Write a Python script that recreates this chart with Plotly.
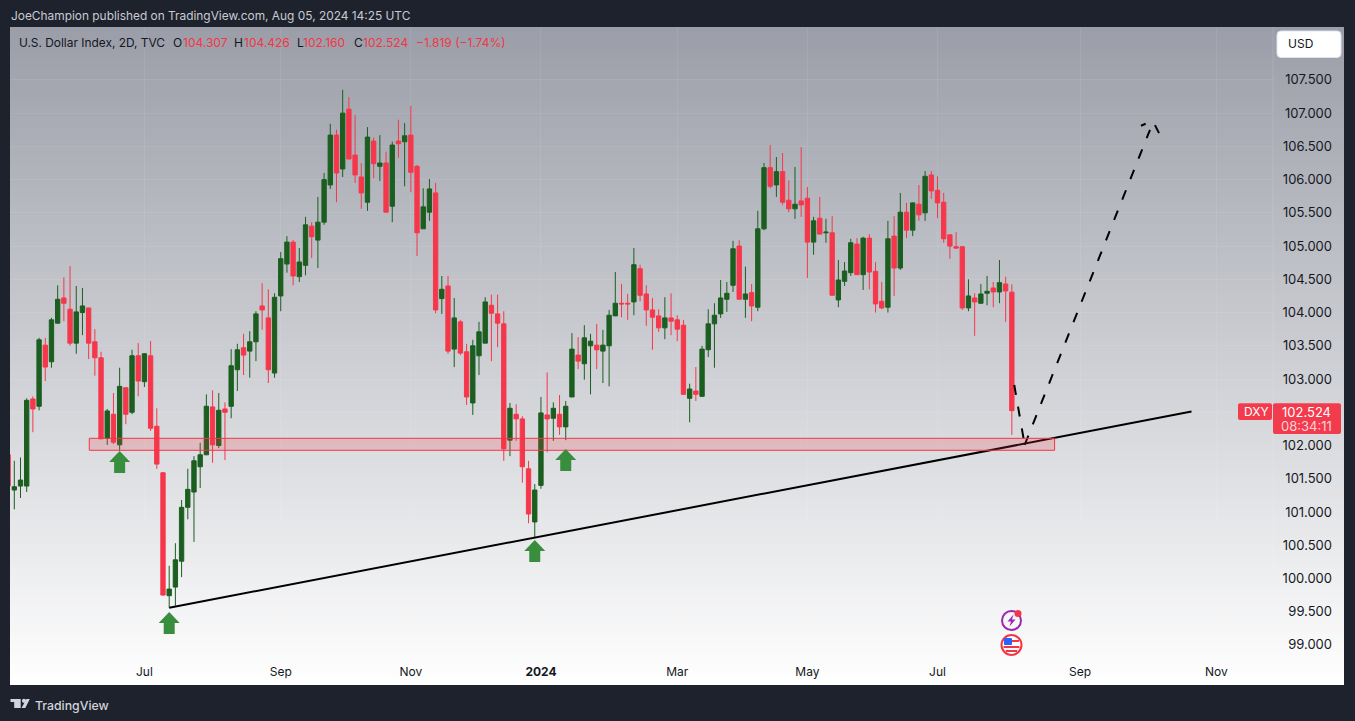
import plotly.graph_objects as go

bar_index = list(range(-1, 162))
opens = [101.86,101.33,101.39,101.39,102.70,102.59,103.51,103.26,103.84,104.22,
104.05,103.54,104.00,104.07,103.56,103.32,102.11,102.47,102.01,102.87,
102.50,103.35,102.96,103.35,102.29,101.59,99.74,99.87,100.26,101.07,
101.30,101.68,101.86,102.58,102.00,102.55,102.59,103.14,103.47,103.42,
103.56,104.10,103.92,103.09,104.25,104.73,105.06,104.54,104.71,105.30,
105.09,105.36,105.92,106.67,106.16,107.06,106.37,106.04,105.66,106.58,
106.20,106.25,105.60,106.58,106.57,106.67,106.20,105.26,105.51,105.80,
104.21,104.40,103.45,103.86,103.41,102.64,103.35,103.54,104.11,103.98,
103.83,102.08,102.47,102.40,101.65,100.85,101.40,102.46,102.41,102.47,
102.28,102.73,103.36,103.23,103.50,103.51,103.42,103.50,103.95,104.14,
104.14,104.16,104.66,104.28,104.04,103.95,103.77,103.92,103.89,103.81,
102.71,102.82,102.74,103.44,103.83,103.98,104.20,104.41,105.00,104.20,
104.30,104.08,105.26,106.18,105.92,106.12,105.69,105.56,105.68,105.72,
105.06,105.42,105.20,105.20,104.19,104.47,104.60,105.03,104.57,105.12,
104.62,104.17,104.08,105.15,104.67,105.51,105.24,105.63,105.50,106.07,
105.84,105.66,105.17,104.99,104.99,104.07,104.22,104.14,104.29,104.37,
104.31,104.43,104.307]
highs = [101.95,101.77,101.82,102.71,102.74,103.62,103.62,103.92,104.41,104.53,
104.70,104.40,104.37,104.07,103.75,103.41,102.55,102.79,103.17,102.87,
103.44,103.54,103.39,103.57,102.56,101.60,100.19,100.53,101.18,101.65,
101.84,102.04,102.77,102.83,102.79,102.65,103.45,103.53,103.68,103.72,
104.02,104.44,104.35,104.29,104.91,105.15,105.09,104.97,105.44,105.36,
105.74,106.10,106.84,106.75,107.35,107.24,106.97,106.25,106.79,106.63,
106.67,106.42,106.57,106.90,106.85,107.11,106.22,105.87,106.01,105.95,
104.55,104.55,104.22,103.89,103.53,103.59,103.86,104.23,104.27,104.27,
104.02,102.64,102.62,102.44,101.77,101.42,102.73,103.10,102.65,102.76,
102.67,103.69,103.63,103.81,103.68,103.83,103.74,104.04,104.61,104.43,
104.28,104.97,104.72,104.41,104.22,104.05,104.23,104.29,103.96,103.89,
102.93,103.18,103.50,104.05,104.14,104.49,104.46,105.08,105.09,104.69,
104.43,105.53,106.25,106.52,106.34,106.40,105.99,106.19,106.49,105.89,
105.44,105.74,105.41,105.45,104.79,104.76,105.11,105.12,105.14,105.18,
104.76,104.46,105.38,105.45,105.80,105.65,105.66,105.92,106.13,106.13,
106.05,105.80,105.17,105.21,105.00,104.50,104.29,104.43,104.55,104.46,
104.79,104.54,104.426]
lows = [101.10,101.04,101.21,101.30,102.20,102.53,102.97,103.17,103.84,103.87,
103.50,103.38,103.66,103.30,103.05,102.10,102.01,102.02,101.92,102.32,
102.47,102.74,102.88,102.22,101.65,99.74,99.56,99.59,100.02,100.89,
100.55,101.36,101.86,101.74,101.96,101.78,102.41,102.82,103.06,103.02,
103.27,103.74,102.94,103.02,104.02,104.60,104.41,104.46,104.56,104.82,
104.67,105.32,105.86,105.66,106.04,106.31,105.95,105.56,105.53,106.02,
105.98,105.51,105.36,106.33,105.90,105.81,104.85,105.26,105.38,103.99,
103.98,103.38,103.18,103.36,102.61,102.46,103.06,103.54,103.27,103.48,
101.77,101.84,102.07,101.44,100.83,100.61,101.35,101.90,102.07,102.16,
102.08,102.73,103.15,102.99,102.77,103.15,102.94,102.89,103.95,103.93,
103.89,103.96,104.17,103.80,103.44,103.71,103.60,103.66,103.57,102.77,
102.35,102.67,102.73,103.33,103.17,103.92,104.01,104.31,104.20,103.92,
103.87,104.02,105.24,105.87,105.74,105.62,105.51,105.41,105.44,104.52,
104.87,105.18,105.05,104.26,104.08,104.40,104.55,104.57,104.34,104.35,
104.00,104.05,104.00,104.25,104.64,105.12,105.15,105.38,105.38,105.71,
105.42,105.05,104.81,104.96,104.04,104.02,103.65,104.13,104.11,104.08,
104.14,103.86,102.160]
closes = [101.39,101.38,101.48,102.68,102.55,103.59,103.18,103.89,104.20,104.14,
103.54,104.01,104.10,103.54,103.32,102.10,102.52,102.05,102.89,102.47,
103.35,102.97,103.38,102.26,101.72,99.75,99.84,100.28,101.07,101.34,
101.77,101.86,102.59,102.01,102.53,102.50,103.20,103.44,103.36,103.56,
103.98,104.04,103.14,104.23,104.81,105.06,104.55,104.76,105.32,105.14,
105.36,106.00,106.67,106.10,107.00,106.31,106.07,105.80,106.64,106.24,
106.25,105.51,106.52,106.54,106.66,106.11,105.20,105.59,105.86,104.04,
104.35,103.42,103.92,103.39,102.73,103.50,103.71,104.16,103.99,103.84,
101.95,102.56,102.40,101.68,100.97,101.33,102.49,102.40,102.56,102.28,
102.59,103.45,103.27,103.62,103.57,103.44,103.51,103.96,104.14,104.13,
104.13,104.72,104.26,104.04,103.93,103.77,103.92,103.87,103.75,102.77,
102.85,102.77,103.45,103.83,103.96,104.22,104.29,104.96,104.20,104.28,
104.10,105.26,106.18,105.90,106.12,105.66,105.56,105.63,105.62,105.06,
105.38,105.18,105.21,104.26,104.49,104.625,105.05,104.57,105.12,104.61,
104.13,104.07,105.11,104.67,105.51,105.24,105.65,105.47,106.05,105.83,
105.65,105.11,105.00,104.97,104.07,104.25,104.16,104.28,104.32,104.31,
104.45,104.325,102.524]

time_tick_bars = [21, 43, 64, 85, 107, 128, 149, 172, 194]
time_tick_labels = ["Jul", "Sep", "Nov", "<b>2024</b>", "Mar", "May", "Jul", "Sep", "Nov"]
price_ticks = [99.0, 99.5, 100.0, 100.5, 101.0, 101.5, 102.0, 102.5, 103.0, 103.5,
               104.0, 104.5, 105.0, 105.5, 106.0, 106.5, 107.0, 107.5]
# the 102.500 label is covered by the last-price tag in the reference
price_tick_labels = ["99.000", "99.500", "100.000", "100.500", "101.000", "101.500",
                     "102.000", "", "103.000", "103.500", "104.000", "104.500",
                     "105.000", "105.500", "106.000", "106.500", "107.000", "107.500"]

trend_bars = [25, 190]
trend_prices = [99.56, 102.51]
forecast_bars = [161.39, 163.07, None, 163.07, 183.3, None, 181.84, 182.6, None, 184.1, 184.75]
forecast_prices = [102.91, 102.01, None, 102.01, 106.75, None, 106.81, 106.84, None, 106.82, 106.70]
zone_bars = [12.1, 167.9]
zone_prices = [101.928, 102.108]
arrow_bars = [17, 25, 84, 89]
arrow_tips = [101.917, 99.495, 100.578, 101.947]

RED = "#F6374B"
GREEN = "#1B5E20"
ARROW = "#388E3C"
DARK = "#1E222D"
INK = "#131722"
FONT = "Inter"

# frame geometry, page pixels
FL, FR, FT, FB = 10, 1344, 27, 685
PANE_R, PANE_B = 1273, 661


def fx(x):
    return (x - FL) / (FR - FL)


def fy(y):
    return 1 - (y - FT) / (FB - FT)


def rrect(x0, y0, x1, y1, r):
    return (f"M{fx(x0+r)},{fy(y0)} L{fx(x1-r)},{fy(y0)} Q{fx(x1)},{fy(y0)} {fx(x1)},{fy(y0+r)} "
            f"L{fx(x1)},{fy(y1-r)} Q{fx(x1)},{fy(y1)} {fx(x1-r)},{fy(y1)} "
            f"L{fx(x0+r)},{fy(y1)} Q{fx(x0)},{fy(y1)} {fx(x0)},{fy(y1-r)} "
            f"L{fx(x0)},{fy(y0+r)} Q{fx(x0)},{fy(y0)} {fx(x0+r)},{fy(y0)} Z")


def poly(pts):
    return "M" + " L".join(f"{fx(x)},{fy(y)}" for x, y in pts) + " Z"


def path_shape(path, fill, line=None, width=0, layer="above"):
    return dict(type="path", xref="paper", yref="paper", path=path, fillcolor=fill,
                line=dict(color=line or fill, width=width), layer=layer)


def circle(cx, cy, r, fill, line=None, width=0):
    return dict(type="circle", xref="paper", yref="paper", x0=fx(cx - r), x1=fx(cx + r),
                y0=fy(cy + r), y1=fy(cy - r), fillcolor=fill,
                line=dict(color=line or fill, width=width), layer="above")


def ann(text, x, y, size, color, anchor="left", weight=None):
    font = dict(family=FONT, size=size, color=color)
    if weight:
        font["weight"] = weight
    return dict(text=text, x=fx(x), y=fy(y), xref="paper", yref="paper", xanchor=anchor,
                yanchor="middle", showarrow=False, font=font, borderpad=0)


shapes = []
# frame gradient
STEP = 4
top, bottom = (155, 158, 168), (255, 255, 255)
for y in range(FT, FB, STEP):
    t = (y - FT) / (FB - FT)
    c = [round(a + (b - a) * t) for a, b in zip(top, bottom)]
    shapes.append(dict(type="rect", xref="paper", yref="paper", x0=0, x1=1, y0=0, y1=fy(y),
                       fillcolor=f"rgb({c[0]},{c[1]},{c[2]})", line=dict(width=0), layer="below"))

# pane separators
shapes.append(dict(type="line", xref="paper", yref="paper", x0=fx(PANE_R), x1=fx(PANE_R), y0=0, y1=1,
                   line=dict(color="rgba(255,255,255,0.12)", width=1), layer="below"))

# support zone
shapes.append(dict(type="rect", xref="x", yref="y", x0=zone_bars[0], x1=zone_bars[1],
                   y0=zone_prices[0], y1=zone_prices[1], fillcolor="rgba(242,54,69,0.2)",
                   line=dict(color="#F23645", width=1), layer="above"))

# green arrows
arrow_path = "M0,0 L10.5,-11 L5.5,-11 L5.5,-22 L-5.5,-22 L-5.5,-11 L-10.5,-11 Z"
for b, p in zip(arrow_bars, arrow_tips):
    shapes.append(dict(type="path", xref="x", yref="y", xsizemode="pixel", ysizemode="pixel",
                       xanchor=b, yanchor=p, path=arrow_path, fillcolor=ARROW,
                       line=dict(width=0), layer="above"))

# USD button
shapes.append(path_shape(rrect(1277, 31, 1341, 57.5, 4), "#FFFFFF", "#E0E3EB", 1))
# price labels
shapes.append(path_shape(rrect(1238, 403.3, 1272, 420, 2), "#F23C4E"))
shapes.append(path_shape(rrect(1273, 403.3, 1341, 434, 2), "#F23C4E"))

# event icons
shapes.append(circle(1011.5, 620.5, 9.5, "rgba(255,255,255,0)", "#9C27B0", 2))
shapes.append(path_shape(poly([(1013.5, 614.5), (1007.5, 621.5), (1011, 621.5), (1009.5, 626.5),
                               (1015.5, 619.5), (1012, 619.5)]), "#9C27B0"))
shapes.append(circle(1018, 613.5, 3.5, "#F23645"))
shapes.append(circle(1011.5, 645, 10, "#FFFFFF", "#F23645", 2))
shapes.append(path_shape(rrect(1004, 638, 1012, 645, 1), "#2962FF"))
shapes.append(path_shape(poly([(1012, 640), (1019, 640), (1019, 642), (1012, 642)]), "#F23645"))
shapes.append(path_shape(poly([(1003.5, 646), (1019.5, 646), (1019.5, 648), (1003.5, 648)]), "#F23645"))
shapes.append(path_shape(poly([(1005.5, 650), (1017.5, 650), (1017, 652), (1006, 652)]), "#F23645"))

# footer logo
LOGO = "#D1D4DC"
shapes.append(path_shape(poly([(10.5, 699), (20.7, 699), (20.7, 708), (14.2, 708), (14.2, 702), (10.5, 702)]), LOGO))
shapes.append(circle(24, 700.8, 2.1, LOGO))
shapes.append(path_shape(poly([(26.4, 699), (29.8, 699), (25.3, 708), (21.6, 708)]), LOGO))

annotations = [
    ann("JoeChampion published on TradingView.com, Aug 05, 2024 14:25 UTC", 10, 15.7, 11.9, "#C8CBD2"),
    ann("U.S. Dollar Index, 2D, TVC", 18, 42.8, 11.9, INK),
    ann("O", 172, 42.8, 12, INK), ann("104.307", 181.7, 42.8, 12, "#F23645"),
    ann("H", 233.3, 42.8, 12, INK), ann("104.426", 242.7, 42.8, 12, "#F23645"),
    ann("L", 295.7, 42.8, 12, INK), ann("102.160", 301.7, 42.8, 12, "#F23645"),
    ann("C", 353.3, 42.8, 12, INK), ann("102.524", 361.7, 42.8, 12, "#F23645"),
    ann("\u22121.819 (\u22121.74%)", 415, 42.8, 12, "#F23645"),
    ann("USD", 1286.5, 43.5, 12, INK),
    ann("DXY", 1242.7, 411.7, 12, "#FFFFFF"),
    ann("102.524", 1332, 411.7, 13, "#FFFFFF", anchor="right"),
    ann("08:34:11", 1332.5, 425.7, 13, "#FFD0D5", anchor="right"),
    ann("TradingView", 33.5, 705, 12.3, "#D1D4DC", weight=500),
]

fig = go.Figure()
fig.add_trace(go.Candlestick(
    x=bar_index, open=opens, high=highs, low=lows, close=closes,
    increasing=dict(line=dict(color=GREEN, width=1), fillcolor=GREEN),
    decreasing=dict(line=dict(color=RED, width=1), fillcolor=RED),
    hoverinfo="skip", showlegend=False,
))
fig.add_trace(go.Scatter(x=trend_bars, y=trend_prices, mode="lines",
                         line=dict(color="#000000", width=2), hoverinfo="skip", showlegend=False))
fig.add_trace(go.Scatter(x=forecast_bars, y=forecast_prices, mode="lines", connectgaps=False,
                         line=dict(color="#000000", width=2, dash="10px,12px"),
                         hoverinfo="skip", showlegend=False))

fig.update_layout(
    width=1355, height=721, autosize=False,
    margin=dict(l=FL, r=1355 - FR, t=FT, b=721 - FB, pad=0),
    paper_bgcolor=DARK, plot_bgcolor="rgba(0,0,0,0)",
    font=dict(family=FONT, color=INK),
    boxmode="overlay", boxgap=0.3, boxgroupgap=0,
    showlegend=False, shapes=shapes, annotations=annotations,
    xaxis=dict(domain=[0, fx(PANE_R)], range=[-0.694, 203.15], rangeslider=dict(visible=False),
               tickmode="array", tickvals=time_tick_bars, ticktext=time_tick_labels,
               tickfont=dict(family=FONT, size=12, color=INK), ticks="", showline=True,
               linecolor="rgba(255,255,255,0.12)", linewidth=1,
               showgrid=True, gridcolor="rgba(255,255,255,0.08)", gridwidth=1, zeroline=False),
    yaxis=dict(domain=[fy(PANE_B), 1], range=[98.758, 108.296], side="left", anchor="free",
               position=fx(1332), tickmode="array", tickvals=price_ticks, ticktext=price_tick_labels,
               tickfont=dict(family=FONT, size=13, color=INK), ticks="", showline=False,
               showgrid=True, gridcolor="rgba(255,255,255,0.08)", gridwidth=1, zeroline=False),
)

fig.write_html("out.html", config=dict(displayModeBar=False),
               post_script="document.body.style.margin='0';document.body.style.overflow='hidden';document.body.style.background='#1E222D';")
